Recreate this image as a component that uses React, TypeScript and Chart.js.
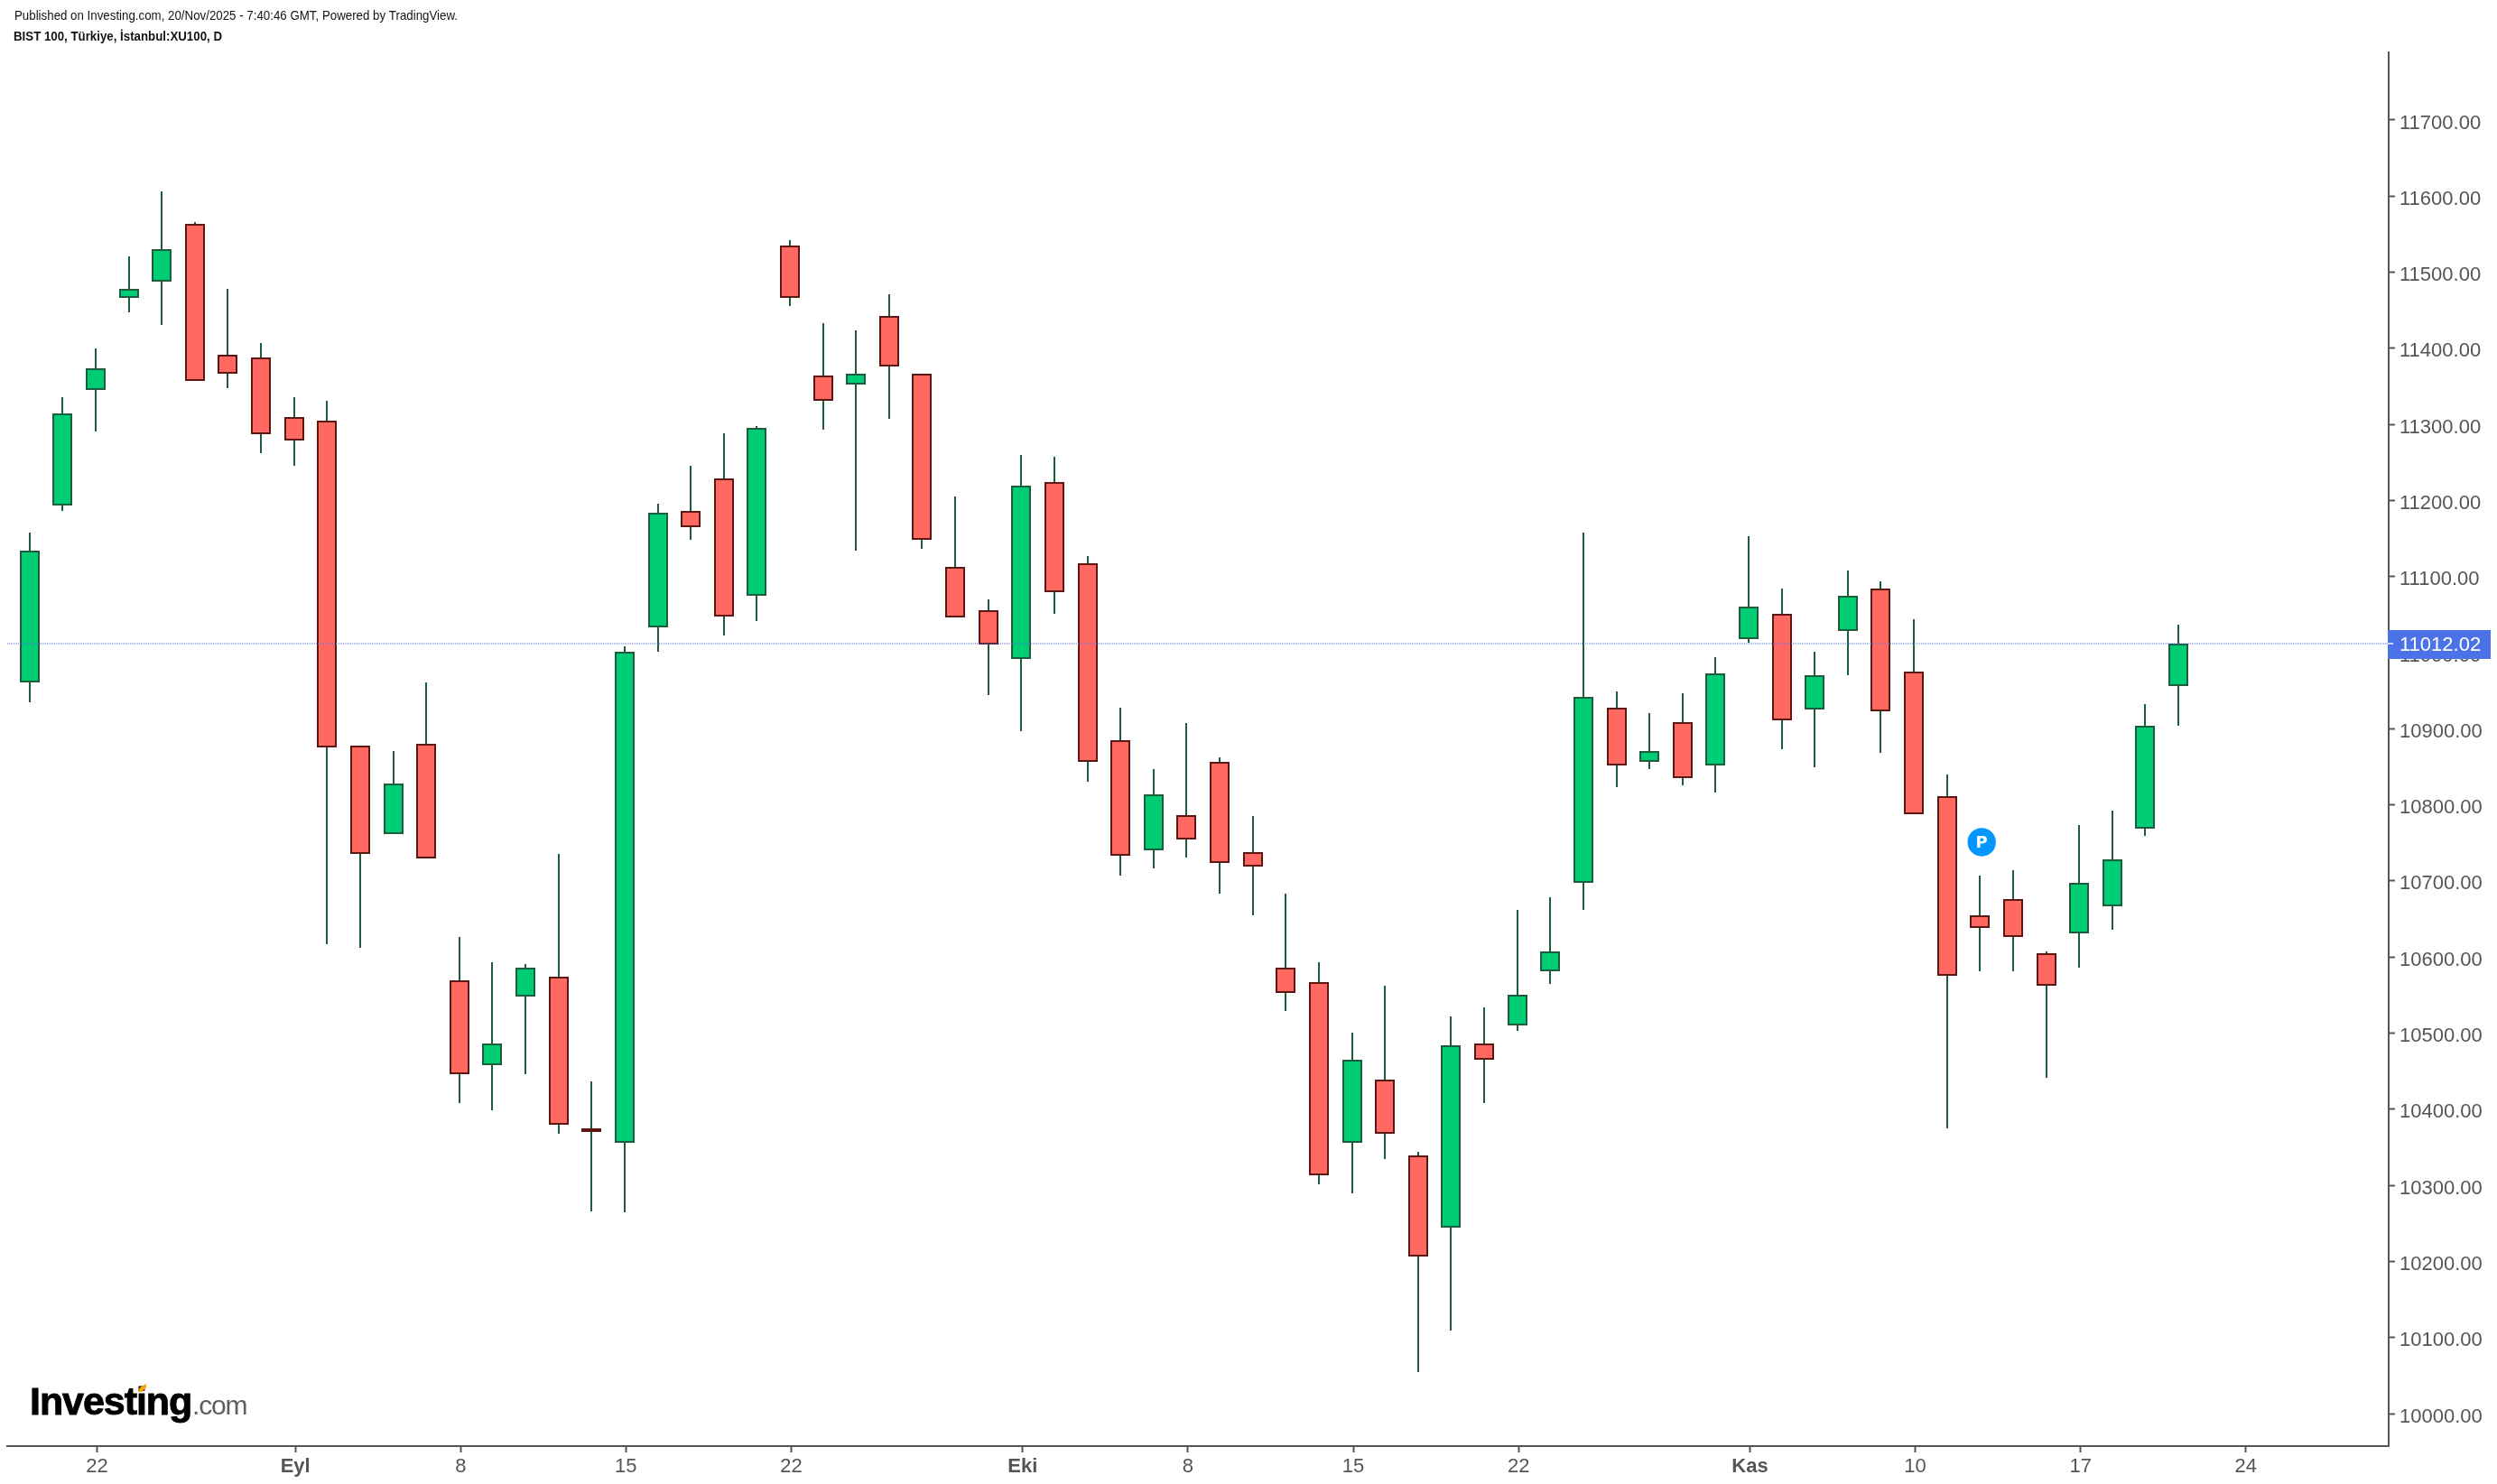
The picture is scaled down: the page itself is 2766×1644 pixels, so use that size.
import React, { useEffect, useRef } from "react";
import { Chart, ScatterController, registerables } from "chart.js";

class MarkerController extends ScatterController {
  static id = "marker";
  static defaults = ScatterController.defaults;
  static overrides = ScatterController.overrides;
  getMaxOverflow() {
    return 0;
  }
}

Chart.register(...registerables, MarkerController);

const openValues = [
  10961, 11193, 11345, 11466, 11488, 11564, 11392, 11388, 11310, 11305,
  10878, 10762, 10880, 10569, 10458, 10548, 10574, 10375, 10356, 11033,
  11186, 11229, 11075, 11535, 11364, 11352, 11443, 11367, 11113, 11056,
  10992, 11224, 11117, 10885, 10740, 10787, 10856, 10738, 10586, 10567,
  10356, 10439, 10339, 10244, 10486, 10510, 10581, 10698, 10928, 10857,
  10909, 10852, 11018, 11051, 10925, 11028, 11084, 10975, 10812, 10655,
  10676, 10605, 10631, 10667, 10769, 10956,
];
const closeValues = [
  11134, 11314, 11374, 11478, 11530, 11357, 11367, 11287, 11279, 10876,
  10736, 10828, 10729, 10446, 10486, 10586, 10380, 10370, 11001, 11184,
  11165, 11047, 11296, 11466, 11331, 11367, 11376, 11148, 11046, 11011,
  11220, 11080, 10857, 10733, 10814, 10755, 10724, 10719, 10553, 10313,
  10465, 10368, 10207, 10484, 10465, 10551, 10607, 10942, 10852, 10871,
  10835, 10973, 11061, 10911, 10970, 11075, 10923, 10788, 10575, 10638,
  10626, 10562, 10698, 10728, 10904, 11012.02,
];
const highValues = [
  11158, 11336, 11400, 11521, 11606, 11566, 11478, 11407, 11336, 11331,
  10878, 10871, 10961, 10626, 10593, 10591, 10735, 10437, 11008, 11196,
  11246, 11288, 11298, 11542, 11433, 11423, 11471, 11367, 11205, 11070,
  11260, 11258, 11127, 10928, 10847, 10908, 10863, 10785, 10683, 10593,
  10501, 10562, 10344, 10522, 10534, 10662, 10679, 11158, 10949, 10921,
  10947, 10994, 11153, 11084, 11001, 11108, 11094, 11044, 10840, 10707,
  10714, 10607, 10773, 10792, 10932, 11037,
];
const lowValues = [
  10935, 11186, 11291, 11447, 11431, 11357, 11348, 11262, 11246, 10617,
  10612, 10762, 10729, 10408, 10399, 10446, 10368, 10266, 10264, 11001,
  11148, 11023, 11042, 11455, 11293, 11134, 11307, 11136, 11046, 10944,
  10897, 11051, 10830, 10707, 10717, 10731, 10683, 10655, 10529, 10301,
  10289, 10334, 10055, 10109, 10408, 10503, 10565, 10662, 10823, 10847,
  10826, 10816, 11013, 10873, 10849, 10970, 10868, 10788, 10375, 10581,
  10581, 10441, 10586, 10636, 10759, 10904,
];

const xTickIndexes = [2, 8, 13, 18, 23, 30, 35, 40, 45, 52, 57, 62, 67];
const xTickLabels = ["22", "Eyl", "8", "15", "22", "Eki", "8", "15", "22", "Kas", "10", "17", "24"];
const boldTickLabels = ["Eyl", "Eki", "Kas"];
const yTickValues = [
  10000, 10100, 10200, 10300, 10400, 10500, 10600, 10700, 10800,
  10900, 11000, 11100, 11200, 11300, 11400, 11500, 11600, 11700,
];
const lastPrice = 11012.02;
const markerPoint = { x: 59.05, y: 10751 };
const headerLine = "Published on Investing.com, 20/Nov/2025 - 7:40:46 GMT, Powered by TradingView.";
const symbolLine = "BIST 100, Türkiye, İstanbul:XU100, D";

const FONT = '"Liberation Sans", Arial, sans-serif';
const AXIS = "#555555";
const UP_FILL = "#00cc74";
const DOWN_FILL = "#ff6961";
const UP_EDGE = "#1e5c3e";
const DOWN_EDGE = "#5c1713";
const WICK = "#1e5c3e";
const PRICE_BLUE = "#4c72e8";

const isUp = (i: number) => closeValues[i] >= openValues[i];

const overlayPlugin = {
  id: "overlay",
  beforeDatasetsDraw(chart: any) {
    [1, 2].forEach((d) => {
      chart.getDatasetMeta(d).data.forEach((el: any) => {
        el.x = Math.round(el.x);
        el.y = Math.round(el.y);
        el.base = Math.round(el.base);
      });
    });
  },
  afterDatasetsDraw(chart: any) {
    const { ctx, chartArea, scales } = chart;
    const y = Math.round(scales.y.getPixelForValue(lastPrice));
    ctx.save();
    ctx.strokeStyle = "rgba(76,114,232,0.5)";
    ctx.lineWidth = 2;
    ctx.setLineDash([1, 1]);
    ctx.beginPath();
    ctx.moveTo(chartArea.left, y);
    ctx.lineTo(chartArea.right, y);
    ctx.stroke();
    ctx.restore();
    const pt = chart.getDatasetMeta(0).data[0];
    ctx.save();
    ctx.fillStyle = "#ffffff";
    ctx.font = 'bold 18px "DejaVu Sans"';
    ctx.textAlign = "center";
    ctx.textBaseline = "middle";
    ctx.fillText("P", pt.x, pt.y + 1);
    ctx.restore();
  },
  afterDraw(chart: any) {
    const { ctx, chartArea, scales } = chart;
    const y = Math.round(scales.y.getPixelForValue(lastPrice));
    ctx.save();
    ctx.fillStyle = PRICE_BLUE;
    ctx.fillRect(chartArea.right - 1, y - 15, 114, 32);
    ctx.strokeStyle = "#c6d2f8";
    ctx.lineWidth = 2;
    ctx.beginPath();
    ctx.moveTo(chartArea.right - 3, y);
    ctx.lineTo(chartArea.right + 5, y);
    ctx.stroke();
    ctx.fillStyle = "#ffffff";
    ctx.font = `22px ${FONT}`;
    ctx.textAlign = "left";
    ctx.textBaseline = "middle";
    ctx.fillText(lastPrice.toFixed(2), chartArea.right + 12, y + 2);

    ctx.fillStyle = "#131313";
    ctx.font = `14.5px ${FONT}`;
    ctx.textBaseline = "middle";
    ctx.fillText(headerLine, 16, 17.5, 491);
    ctx.font = `bold 14.5px ${FONT}`;
    ctx.fillText(symbolLine, 15, 40.5, 231);

    ctx.fillStyle = "#000000";
    ctx.strokeStyle = "#000000";
    ctx.lineWidth = 0.9;
    ctx.font = `bold 43px ${FONT}`;
    ctx.textBaseline = "alphabetic";
    (ctx as any).letterSpacing = "-1.05px";
    ctx.fillText("Investing", 33, 1567);
    ctx.strokeText("Investing", 33, 1567);
    ctx.fillStyle = "#5f5f5f";
    ctx.font = `30px ${FONT}`;
    (ctx as any).letterSpacing = "-1.2px";
    ctx.fillText(".com", 213, 1567);
    (ctx as any).letterSpacing = "0px";
    ctx.fillStyle = "#f7a600";
    ctx.beginPath();
    ctx.moveTo(162, 1533);
    ctx.lineTo(162, 1537);
    ctx.lineTo(157, 1542);
    ctx.lineTo(153, 1542);
    ctx.lineTo(155, 1537);
    ctx.closePath();
    ctx.fill();
    ctx.restore();
  },
};

export default function App() {
  const ref = useRef<HTMLCanvasElement | null>(null);
  useEffect(() => {
    const canvas = ref.current;
    if (!canvas) return;
    const chart = new Chart(canvas, {
      type: "bar",
      data: {
        datasets: [
          {
            type: "marker",
            label: "P",
            data: [markerPoint],
            pointRadius: 15.7,
            pointBackgroundColor: "#0496ff",
            pointBorderWidth: 0,
          },
          {
            label: "Body",
            grouped: false,
            barThickness: 22,
            borderWidth: 2,
            borderSkipped: false,
            inflateAmount: 0,
            data: openValues.map((o, i) => ({ x: i, y: [o, closeValues[i]] })),
            backgroundColor: openValues.map((_, i) => (isUp(i) ? UP_FILL : DOWN_FILL)),
            borderColor: openValues.map((_, i) => (isUp(i) ? UP_EDGE : DOWN_EDGE)),
          },
          {
            label: "Wick",
            grouped: false,
            barThickness: 2,
            borderWidth: 0,
            inflateAmount: 0,
            data: lowValues.map((l, i) => ({ x: i, y: [l, highValues[i]] })),
            backgroundColor: WICK,
          },
        ],
      } as any,
      options: {
        animation: false,
        responsive: false,
        devicePixelRatio: 1,
        layout: { padding: { left: 8, top: 58, right: 0, bottom: 0 } },
        plugins: {
          legend: { display: false },
          tooltip: { enabled: false },
        },
        scales: {
          x: {
            type: "linear",
            offset: false,
            min: -0.6745,
            max: 71.36,
            afterBuildTicks(axis: any) {
              axis.ticks = xTickIndexes.map((v) => ({ value: v + 0.04 }));
            },
            afterFit(axis: any) {
              axis.height = 42;
              axis.paddingLeft = 0;
              axis.paddingRight = 0;
            },
            grid: {
              offset: false,
              drawOnChartArea: false,
              color: AXIS,
              tickLength: 7,
              tickWidth: 2,
            },
            border: { color: AXIS, width: 2 },
            ticks: {
              autoSkip: false,
              maxRotation: 0,
              padding: 3,
              color: AXIS,
              callback: (_: any, i: number) => xTickLabels[i],
              font: (ctx: any) => ({
                family: FONT,
                size: 22,
                weight: boldTickLabels.includes(xTickLabels[ctx.index]) ? "bold" : "normal",
              }),
            },
          },
          y: {
            type: "linear",
            position: "right",
            min: 9957.3,
            max: 11788.9,
            afterBuildTicks(axis: any) {
              axis.ticks = yTickValues.map((v) => ({ value: v }));
            },
            afterFit(axis: any) {
              axis.width = 120;
              axis.paddingTop = 0;
              axis.paddingBottom = 0;
            },
            grid: {
              drawOnChartArea: false,
              color: AXIS,
              tickLength: 7,
              tickWidth: 2,
            },
            border: { color: AXIS, width: 2 },
            ticks: {
              autoSkip: false,
              padding: 5,
              labelOffset: 3.5,
              color: AXIS,
              font: { family: FONT, size: 22 },
              callback: (v: any) => Number(v).toFixed(2),
            },
          },
        },
      } as any,
      plugins: [overlayPlugin],
    });
    return () => chart.destroy();
  }, []);
  return (
    <div style={{ position: "fixed", left: 0, top: 0, width: 2766, height: 1644, background: "#fff" }}>
      <canvas ref={ref} width={2766} height={1644} style={{ display: "block" }} />
    </div>
  );
}
